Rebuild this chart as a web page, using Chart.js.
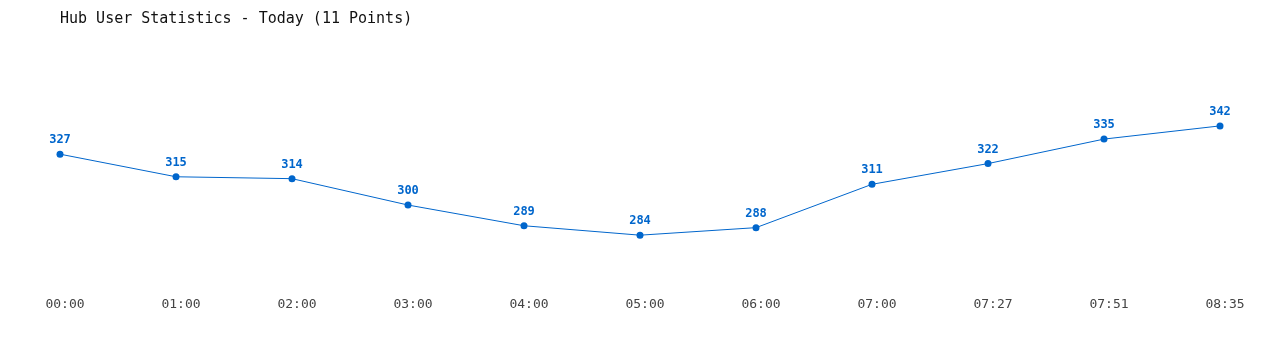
<!DOCTYPE html>
<html>
<head>
<meta charset="utf-8">
<script src="https://cdn.jsdelivr.net/npm/chart.js@4"></script>
<style>
  html, body { margin: 0; padding: 0; background: #fff; }
  #wrap { width: 1280px; height: 350px; position: relative; }
</style>
</head>
<body>
<div id="wrap"><canvas id="chart"></canvas></div>
<script>
const titleText = 'Hub User Statistics - Today (11 Points)';
const timeLabels = ['00:00', '01:00', '02:00', '03:00', '04:00', '05:00', '06:00', '07:00', '07:27', '07:51', '08:35'];
const userCounts = [327, 315, 314, 300, 289, 284, 288, 311, 322, 335, 342];

const lineColor = '#0066cc';
const mono = '"DejaVu Sans Mono", "Liberation Mono", monospace';

// value labels above each point
const pointLabels = {
  id: 'pointLabels',
  afterDatasetsDraw(chart) {
    const ctx = chart.ctx;
    const meta = chart.getDatasetMeta(0);
    ctx.save();
    ctx.fillStyle = lineColor;
    ctx.font = 'bold 12px ' + mono;
    ctx.textAlign = 'center';
    ctx.textBaseline = 'middle';
    meta.data.forEach((pt, i) => {
      ctx.fillText(String(userCounts[i]), pt.x, pt.y - 14);
    });
    ctx.restore();
  }
};

new Chart(document.getElementById('chart'), {
  type: 'line',
  data: {
    labels: timeLabels,
    datasets: [{
      label: 'Users',
      data: userCounts,
      borderColor: lineColor,
      backgroundColor: lineColor,
      borderWidth: 1,
      pointRadius: 3.5,
      pointBorderWidth: 0,
      tension: 0,
      fill: false,
    }]
  },
  options: {
    responsive: true,
    maintainAspectRatio: false,
    animation: false,
    layout: { padding: { left: 60, right: 60, top: 0, bottom: 30 } },
    plugins: {
      legend: { display: false },
      tooltip: { enabled: false },
      title: {
        display: true,
        text: titleText,
        align: 'start',
        color: '#111',
        font: { family: mono, size: 15, weight: 'normal' },
        padding: { top: 10, bottom: 15 }
      }
    },
    scales: {
      x: {
        offset: false,
        grid: { display: false },
        border: { display: false },
        ticks: {
          color: '#444',
          font: { family: mono, size: 13 },
          maxRotation: 0,
          autoSkip: false,
          padding: 8,
          labelOffset: 5
        }
      },
      y: {
        display: false,
        min: 260,
        max: 386
      }
    }
  },
  plugins: [pointLabels]
});
</script>
</body>
</html>
